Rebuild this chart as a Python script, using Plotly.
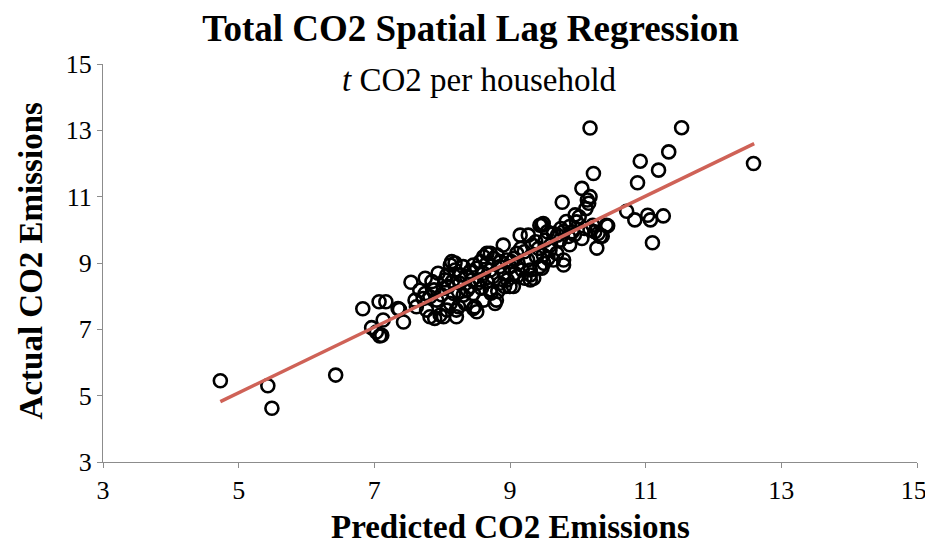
import plotly.graph_objects as go

# Predicted vs actual CO2 emissions (t CO2 per household)
predicted = [
    4.73, 5.43, 5.49, 6.43,
    6.83, 6.96, 7.03, 7.08, 7.11, 7.07, 7.17, 7.13, 7.37, 7.43, 7.35,
    7.54, 7.60, 7.67, 7.75, 7.75, 7.77, 7.82, 7.82, 7.89, 7.92, 7.94, 7.97,
    8.02, 8.02, 8.07, 8.07, 8.12, 8.12, 8.14, 8.19, 8.17, 8.21, 8.24, 8.19,
    8.21, 8.26, 8.31, 8.31, 8.34, 8.41, 8.46, 8.46, 8.46, 8.48, 8.51, 8.56,
    8.61, 8.61, 8.61, 8.66, 8.71, 8.71, 8.75, 8.78, 8.80, 8.85, 8.85, 8.90,
    8.95, 9.00, 9.00, 9.05, 9.07, 9.10, 9.15, 9.27, 9.30, 9.30, 9.30, 9.35,
    9.39, 9.44, 9.44, 9.47, 9.47, 9.49, 9.49, 9.52, 9.59, 9.64, 9.64, 9.69,
    9.74, 9.77, 9.79, 9.79, 9.79, 9.83, 9.86, 9.88, 9.96, 10.06, 10.06,
    10.16, 10.18, 10.18, 10.18, 10.23, 10.28, 10.30, 10.33, 10.36, 10.42,
    10.44, 10.72, 10.84, 10.88, 10.92, 11.03, 11.07, 11.10, 11.19, 11.26,
    11.34, 11.53, 12.59,
    8.36, 8.41, 8.51, 8.56, 8.66, 8.71, 8.76, 8.81, 8.86, 8.91, 8.96, 9.02,
    9.06, 9.12, 9.16, 9.21, 9.26, 9.33, 9.38, 9.42, 8.52, 8.58, 8.66, 8.72,
    8.82, 8.92, 8.27, 8.37, 8.44, 8.24, 8.15, 8.09, 8.04, 7.99, 7.88, 7.85,
    7.72, 7.62, 9.55, 9.60, 9.70, 9.75, 9.92, 9.98, 10.02, 10.10, 10.12,
    10.14, 10.22, 10.25, 9.88, 9.95, 9.50, 9.56, 9.10, 9.18, 9.22,
]
actual = [
    5.45, 5.30, 4.62, 5.62,
    7.62, 7.05, 6.92, 6.80, 6.82, 7.83, 7.83, 7.28, 7.60, 7.22, 7.63,
    8.42, 7.88, 8.18, 8.54, 8.08, 7.58, 7.38, 7.98, 7.33, 7.88, 8.69, 7.43,
    8.23, 7.38, 7.58, 8.64, 8.94, 7.78, 9.04, 9.00, 8.08, 7.38, 7.68, 8.79,
    7.58, 8.39, 8.89, 8.03, 7.78, 8.29, 8.94, 8.08, 7.63, 7.68, 7.53, 8.49,
    9.19, 8.69, 7.88, 9.29, 9.29, 8.19, 8.59, 7.78, 7.88, 8.39, 8.89, 9.54,
    9.09, 8.29, 8.89, 8.29, 8.69, 9.29, 9.84, 9.84, 8.79, 8.49, 8.64, 8.54,
    9.19, 8.89, 10.14, 10.14, 8.84, 10.19, 9.24, 9.69, 9.39, 9.89, 9.09, 9.29,
    9.69, 10.83, 9.95, 9.09, 8.94, 10.25, 9.80, 10.10, 10.45, 11.25, 9.74,
    10.80, 11.00, 10.00, 13.07, 11.70, 9.45, 9.89, 9.80, 9.81, 10.14,
    10.12, 10.56, 10.30, 11.42, 12.07, 10.44, 10.30, 9.61, 11.80, 10.42,
    12.35, 13.08, 12.00,
    8.59, 8.74, 8.84, 9.04, 8.99, 8.79, 9.14, 9.24, 9.04, 8.69, 8.49, 9.04,
    9.14, 8.99, 9.44, 9.34, 9.09, 9.54, 9.64, 9.44, 8.39, 8.24, 8.44, 8.09,
    8.14, 8.29, 8.64, 8.19, 8.49, 8.14, 8.44, 8.29, 8.49, 8.04, 8.19, 8.44,
    7.93, 7.68, 9.94, 9.54, 9.84, 10.04, 9.94, 10.24, 10.39, 10.04, 10.64,
    10.90, 10.14, 9.94, 9.55, 9.85, 8.99, 9.14, 8.59, 8.79, 8.54,
]

# Linear trend line endpoints
trend_x = [4.73, 12.60]
trend_y = [4.82, 12.60]

axis_ticks = [3, 5, 7, 9, 11, 13, 15]
x_tick_labels = ["3", "5", "7", "9", "11", "13", "15\u00a0"]

SERIF = "Liberation Serif, Times New Roman, serif"

fig = go.Figure()
fig.add_trace(go.Scatter(
    x=predicted, y=actual, mode="markers",
    marker=dict(symbol="circle-open", size=13, color="black",
                line=dict(color="black", width=2.6)),
    showlegend=False, hoverinfo="skip",
))
fig.add_trace(go.Scatter(
    x=trend_x, y=trend_y, mode="lines",
    line=dict(color="#CF6257", width=3.5),
    showlegend=False, hoverinfo="skip",
))

axis_common = dict(
    range=[3, 15], tickvals=axis_ticks, showgrid=False, zeroline=False,
    showline=True, linecolor="#8c8c8c", linewidth=1, automargin=False,
    ticks="outside", ticklen=5, tickcolor="#8c8c8c", tickwidth=1,
    ticklabeloverflow="allow",
    tickfont=dict(family=SERIF, size=26, color="black"),
)

fig.update_layout(
    width=925, height=538,
    margin=dict(l=95, r=16, t=56, b=84),
    paper_bgcolor="white", plot_bgcolor="white",
    title=dict(text="<b>Total CO2 Spatial Lag Regression</b>",
               x=0.5, xanchor="center", y=0.963, yanchor="middle",
               font=dict(family=SERIF, size=37, color="black")),
    xaxis=dict(**axis_common, ticktext=x_tick_labels),
    yaxis=dict(**axis_common),
    annotations=[
        dict(text="<i>t</i> CO2 per household", x=0.462, y=0.96,
             xref="paper", yref="paper", xanchor="center", yanchor="middle",
             showarrow=False, font=dict(family=SERIF, size=33, color="black")),
        dict(text="<b>Predicted CO2 Emissions</b>", x=0.5, y=-0.163,
             xref="paper", yref="paper", xanchor="center", yanchor="middle",
             showarrow=False, font=dict(family=SERIF, size=33, color="black")),
        dict(text="<b>Actual CO2 Emissions</b>", x=-0.088, y=0.505,
             xref="paper", yref="paper", xanchor="center", yanchor="middle",
             textangle=-90, showarrow=False,
             font=dict(family=SERIF, size=33, color="black")),
    ],
)

fig.write_html("out.html")
